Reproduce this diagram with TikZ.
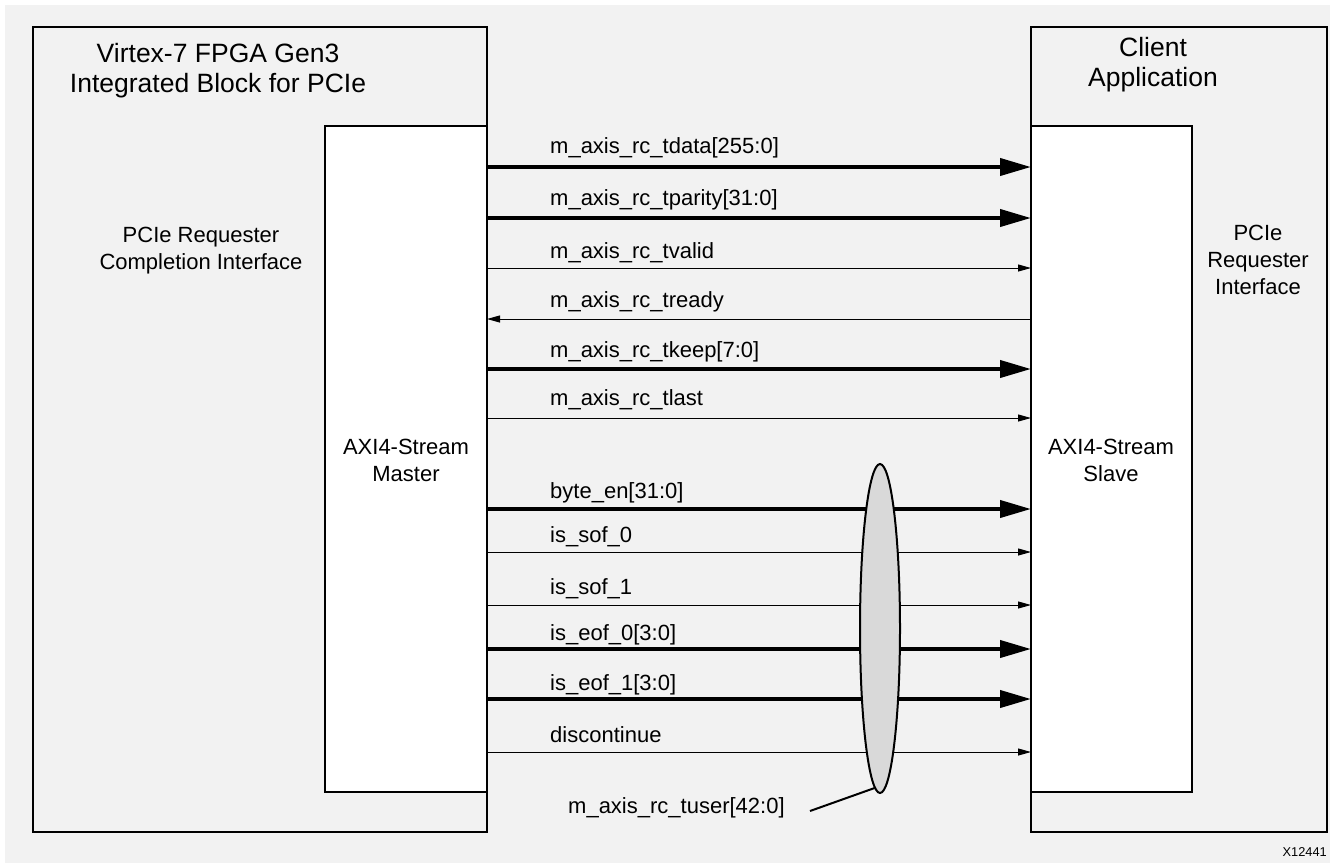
\documentclass[tikz,border=0pt]{standalone}
\usepackage{fontspec}
\setmainfont{Liberation Sans}
\usetikzlibrary{arrows.meta,shapes.geometric}
\definecolor{bg}{HTML}{F2F2F2}
\definecolor{ellfill}{HTML}{D9D9D9}
\begin{document}
\begin{tikzpicture}[x=1pt,y=-1pt,
  box/.style={draw, line width=2pt, inner sep=0pt, outer sep=0pt, anchor=north west},
  bus/.style={line width=4pt, -{Triangle[length=31pt,width=17pt]}},
  sig/.style={line width=1pt, -{Triangle[length=13pt,width=7pt]}},
  lbl/.style={anchor=base west, inner sep=0pt, font=\fontsize{22}{27}\selectfont},
  txt/.style={align=center, inner sep=0pt, font=\fontsize{22}{27}\selectfont},
  ttl/.style={align=center, inner sep=0pt, font=\fontsize{26.5}{30}\selectfont}]
\useasboundingbox (0,0) rectangle (1330,863);
\fill[bg] (5,5) rectangle (1330,863);
% boxes
\node[box, fill=bg, minimum width=454pt, minimum height=805pt] (lo) at (33,27) {};
\node[box, fill=white, minimum width=162pt, minimum height=666pt] (li) at (325,126) {};
\node[box, fill=bg, minimum width=296pt, minimum height=805pt] (ro) at (1031,27) {};
\node[box, fill=white, minimum width=161pt, minimum height=666pt] (ri) at (1031,126) {};
% texts
\node[ttl] (lt) at (218,71) {Virtex-7 FPGA Gen3\\Integrated Block for PCIe};
\node[ttl] (rt) at (1153,65) {Client\\Application};
\node[txt] (lif) at (201,251) {PCIe Requester\\Completion Interface};
\node[txt] (rif) at (1258,260) {PCIe\\Requester\\Interface};
\node[txt] (mst) at (406,460) {AXI4-Stream\\Master};
\node[txt] (slv) at (1111,460) {AXI4-Stream\\Slave};
\node[anchor=east, inner sep=0pt, font=\fontsize{12.8}{14}\selectfont] (fig) at (1327,852) {X12441};
% signals
\draw[bus] (li.east |- 0,167) -- (ri.west |- 0,167);
\node[lbl] (l1) at (550,153) {m\_axis\_rc\_tdata[255:0]};
\draw[bus] (li.east |- 0,218) -- (ri.west |- 0,218);
\node[lbl] (l2) at (550,205) {m\_axis\_rc\_tparity[31:0]};
\draw[sig] (li.east |- 0,268) -- (ri.west |- 0,268);
\node[lbl] (l3) at (550,258) {m\_axis\_rc\_tvalid};
\draw[sig] (ri.west |- 0,319) -- (li.east |- 0,319);
\node[lbl] (l4) at (550,307) {m\_axis\_rc\_tready};
\draw[bus] (li.east |- 0,369) -- (ri.west |- 0,369);
\node[lbl] (l5) at (550,357) {m\_axis\_rc\_tkeep[7:0]};
\draw[sig] (li.east |- 0,418) -- (ri.west |- 0,418);
\node[lbl] (l6) at (550,405) {m\_axis\_rc\_tlast};
\draw[bus] (li.east |- 0,509) -- (ri.west |- 0,509);
\node[lbl] (l7) at (550,498) {byte\_en[31:0]};
\draw[sig] (li.east |- 0,552) -- (ri.west |- 0,552);
\node[lbl] (l8) at (550,542) {is\_sof\_0};
\draw[sig] (li.east |- 0,605) -- (ri.west |- 0,605);
\node[lbl] (l9) at (550,594) {is\_sof\_1};
\draw[bus] (li.east |- 0,649) -- (ri.west |- 0,649);
\node[lbl] (l10) at (550,640) {is\_eof\_0[3:0]};
\draw[bus] (li.east |- 0,699) -- (ri.west |- 0,699);
\node[lbl] (l11) at (550,690) {is\_eof\_1[3:0]};
\draw[sig] (li.east |- 0,752) -- (ri.west |- 0,752);
\node[lbl] (l12) at (550,742) {discontinue};
% bundle ellipse
\node[ellipse, draw, line width=2pt, fill=ellfill, minimum width=40pt, minimum height=329pt, inner sep=0pt] (el) at (880,628.5) {};
\node[anchor=west, inner sep=0pt, font=\fontsize{22}{27}\selectfont] (tuser) at (568,808) {m\_axis\_rc\_tuser[42:0]};
\coordinate (tp) at (810,811);
\draw[line width=2pt] (el.268) -- (tp);
\end{tikzpicture}
\end{document}
